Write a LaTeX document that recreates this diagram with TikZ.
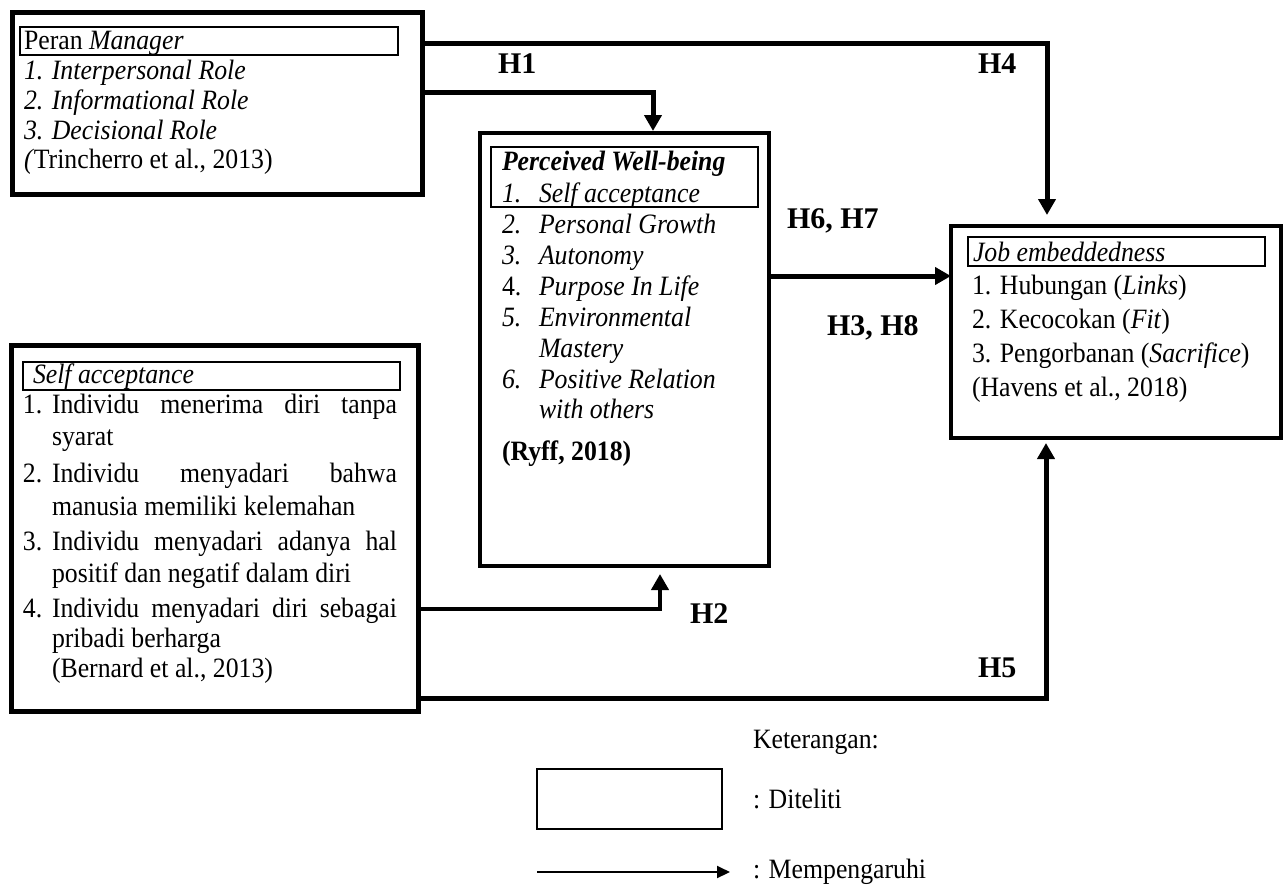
\documentclass[tikz,border=0pt]{standalone}
\usepackage{fontspec}
\setmainfont{Liberation Serif}[FakeStretch=0.92]
\newfontfamily\labelfont{Liberation Serif}
\usetikzlibrary{arrows.meta}
\begin{document}
\begin{tikzpicture}[x=1pt,y=-1pt,
  every node/.style={inner sep=0pt, outer sep=0pt, font=\fontsize{28}{30}\selectfont},
  heavybox/.style={draw, line width=5pt, anchor=north west},
  midbox/.style={draw, line width=4pt, anchor=north west},
  headbox/.style={draw, line width=1.2pt, anchor=north west},
  txt/.style={anchor=base west},
  hlabel/.style={anchor=base west, font=\labelfont\fontsize{30}{36}\selectfont\bfseries},
  conn/.style={line width=5pt, -{Triangle[length=16pt,width=17pt]}},
  thinconn/.style={line width=2pt, -{Triangle[length=13pt,width=12pt]}}]
\useasboundingbox (0,0) rectangle (1287,884);

% ---- main boxes ----
\node[heavybox, minimum width=410pt, minimum height=182pt] (mgr) at (12,12) {};
\node[midbox, minimum width=289pt, minimum height=433pt] (pwb) at (480,133) {};
\node[heavybox, minimum width=407pt, minimum height=366pt] (sa) at (11,345) {};
\node[midbox, minimum width=330pt, minimum height=212pt] (job) at (951,226) {};

% ---- title frames inside the boxes ----
\node[headbox, minimum width=378pt, minimum height=28pt] (mgrhead) at (20,27) {};
\node[headbox, minimum width=267pt, minimum height=60pt] (pwbhead) at (491,147) {};
\node[headbox, minimum width=377pt, minimum height=28pt] (sahead) at (23,362) {};
\node[headbox, minimum width=297pt, minimum height=29pt] (jobhead) at (968,237) {};

% ---- Peran Manager ----
\node[txt] (m1) at (24,49)  {Peran \textit{Manager}};
\node[txt] (m2) at (24,79)  {\textit{1. Interpersonal Role}};
\node[txt] (m3) at (24,109) {\textit{2. Informational Role}};
\node[txt] (m4) at (24,139) {\textit{3. Decisional Role}};
\node[txt] (m5) at (24,168) {\textit{(}Trincherro et al., 2013)};

% ---- Perceived Well-being ----
\node[txt] (p0) at (502,170) {\textbf{\textit{Perceived Well-being}}};
\node[txt] (p1n) at (502,202) {\textit{1.}};
\node[txt] (p1) at (539,202) {\textit{Self acceptance}};
\node[txt] (p2n) at (502,233) {\textit{2.}};
\node[txt] (p2) at (539,233) {\textit{Personal Growth}};
\node[txt] (p3n) at (502,264) {\textit{3.}};
\node[txt] (p3) at (539,264) {\textit{Autonomy}};
\node[txt] (p4n) at (502,295) {4.};
\node[txt] (p4) at (539,295) {\textit{Purpose In Life}};
\node[txt] (p5n) at (502,326) {\textit{5.}};
\node[txt] (p5) at (539,326) {\textit{Environmental}};
\node[txt] (p5b) at (539,357) {\textit{Mastery}};
\node[txt] (p6n) at (502,388) {\textit{6.}};
\node[txt] (p6) at (539,388) {\textit{Positive Relation}};
\node[txt] (p6b) at (539,418) {\textit{with others}};
\node[txt] (p7) at (502,460) {\textbf{(Ryff, 2018)}};

% ---- Self acceptance ----
\node[txt] (s0) at (33,383) {\textit{Self acceptance}};
\node[txt] (s1n) at (23,413) {1.};
\node[txt] (s1) at (52,413) {\makebox[345pt][s]{Individu menerima diri tanpa}};
\node[txt] (s1b) at (52,445) {syarat};
\node[txt] (s2n) at (23,482) {2.};
\node[txt] (s2) at (52,482) {\makebox[345pt][s]{Individu menyadari bahwa}};
\node[txt] (s2b) at (52,515) {manusia memiliki kelemahan};
\node[txt] (s3n) at (23,550) {3.};
\node[txt] (s3) at (52,550) {\makebox[345pt][s]{Individu menyadari adanya hal}};
\node[txt] (s3b) at (52,582) {positif dan negatif dalam diri};
\node[txt] (s4n) at (23,617) {4.};
\node[txt] (s4) at (52,617) {\makebox[345pt][s]{Individu menyadari diri sebagai}};
\node[txt] (s4b) at (52,647) {pribadi berharga};
\node[txt] (s5) at (52,677) {(Bernard et al., 2013)};

% ---- Job embeddedness ----
\node[txt] (j0) at (973,261) {\textit{Job embeddedness}};
\node[txt] (j1) at (972,294) {1. Hubungan (\textit{Links})};
\node[txt] (j2) at (972,328) {2. Kecocokan (\textit{Fit})};
\node[txt] (j3) at (972,362) {3. Pengorbanan (\textit{Sacrifice})};
\node[txt] (j4) at (972,396) {(Havens et al., 2018)};

% ---- connectors ----
\coordinate (h4a) at (1047,43);
\coordinate (h1a) at (653,92);
\coordinate (h6a) at (800,276);
\coordinate (h2a) at (660,609);
\coordinate (h5a) at (1046,698);
\draw[conn, shorten >=11pt] (mgr.east |- h4a) -| (job.north -| h4a);
\draw[conn, shorten >=2pt] (mgr.east |- h1a) -| (pwb.north -| h1a);
\draw[conn] (pwb.east |- h6a) -- (job.west |- h6a);
\draw[conn, line width=4pt, shorten >=8pt] (sa.east |- h2a) -| (pwb.south -| h2a);
\draw[conn, shorten >=5pt] (sa.east |- h5a) -| (job.south -| h5a);

% ---- hypothesis labels ----
\node[hlabel] (lh1) at (498,73) {H1};
\node[hlabel] (lh4) at (978,73) {H4};
\node[hlabel] (lh67) at (787,228) {H6, H7};
\node[hlabel] (lh38) at (827,335) {H3, H8};
\node[hlabel] (lh2) at (690,623) {H2};
\node[hlabel] (lh5) at (978,677) {H5};

% ---- legend ----
\node[txt] (kt) at (753,748) {Keterangan:};
\node[draw, line width=1.5pt, anchor=north west, minimum width=185pt, minimum height=60pt] (legbox) at (537,769) {};
\node[txt] (ktd) at (753,808) {: Diteliti};
\coordinate (lga) at (537,872);
\coordinate (lgb) at (730,872);
\draw[thinconn] (lga) -- (lgb);
\node[txt] (ktm) at (753,878) {: Mempengaruhi};
\end{tikzpicture}
\end{document}
